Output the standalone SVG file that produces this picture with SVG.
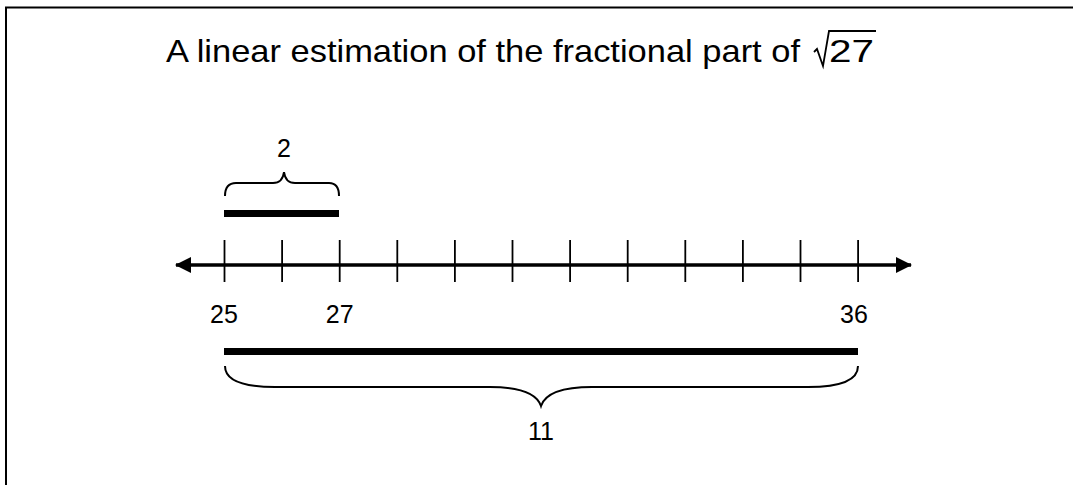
<svg xmlns="http://www.w3.org/2000/svg" width="1073" height="485" viewBox="0 0 1073 485">
<style>
text{font-family:"Liberation Sans",Arial,sans-serif;fill:#000}
.lbl{font-size:25px;text-anchor:middle}
.title{font-size:32px}
.tick{stroke:#000;stroke-width:1.8}
.bar{stroke:#000;stroke-width:7}
.brace{fill:none;stroke:#000;stroke-width:2}
</style>
<defs>
<marker id="ah" viewBox="0 0 16 16" refX="15" refY="8" markerWidth="16" markerHeight="16" markerUnits="userSpaceOnUse" orient="auto-start-reverse">
<path d="M0,0 L16,8 L0,16 Z" fill="#000"/>
</marker>
</defs>
<rect width="1073" height="485" fill="#fff"/>
<path d="M6,485 V7.5 H1073" fill="none" stroke="#000" stroke-width="2"/>
<g id="title">
<text class="title" x="166" y="62" textLength="634" lengthAdjust="spacingAndGlyphs">A linear estimation of the fractional part of</text>
<text class="title" x="829" y="62" textLength="45" lengthAdjust="spacingAndGlyphs">27</text>
<path d="M814,52 L817,49 L823,66 L829,31 H876" fill="none" stroke="#000" stroke-width="1.8"/>
</g>
<g id="connectors">
<line x1="176" y1="265" x2="911" y2="265" stroke="#000" stroke-width="3.5" marker-start="url(#ah)" marker-end="url(#ah)"/>
</g>
<g id="ticks">
<line class="tick" x1="224.5" y1="240" x2="224.5" y2="282"/>
<line class="tick" x1="282.1" y1="240" x2="282.1" y2="282"/>
<line class="tick" x1="339.7" y1="240" x2="339.7" y2="282"/>
<line class="tick" x1="397.3" y1="240" x2="397.3" y2="282"/>
<line class="tick" x1="454.9" y1="240" x2="454.9" y2="282"/>
<line class="tick" x1="512.5" y1="240" x2="512.5" y2="282"/>
<line class="tick" x1="570.1" y1="240" x2="570.1" y2="282"/>
<line class="tick" x1="627.7" y1="240" x2="627.7" y2="282"/>
<line class="tick" x1="685.3" y1="240" x2="685.3" y2="282"/>
<line class="tick" x1="742.9" y1="240" x2="742.9" y2="282"/>
<line class="tick" x1="800.5" y1="240" x2="800.5" y2="282"/>
<line class="tick" x1="858.1" y1="240" x2="858.1" y2="282"/>
</g>
<g id="labels">
<text class="lbl" x="224" y="323">25</text>
<text class="lbl" x="339.7" y="323">27</text>
<text class="lbl" x="854" y="323">36</text>
</g>
<g id="short-span">
<line class="bar" x1="224" y1="213.5" x2="339" y2="213.5"/>
<path class="brace" d="M225,196 C225,188 228,183 236,183 H273 C279,183 283,180 284,172 C285,180 289,183 295,183 H329 C336,183 339,188 339,196"/>
<text class="lbl" x="284" y="157">2</text>
</g>
<g id="long-span">
<line class="bar" x1="224" y1="351.5" x2="858" y2="351.5"/>
<path class="brace" d="M225,366 C225,381 243,387 275,387 H490 C520,387 537,394 541,406 C545,394 562,387 592,387 H808 C840,387 858,381 858,366"/>
<text class="lbl" x="541" y="440">11</text>
</g>
</svg>
